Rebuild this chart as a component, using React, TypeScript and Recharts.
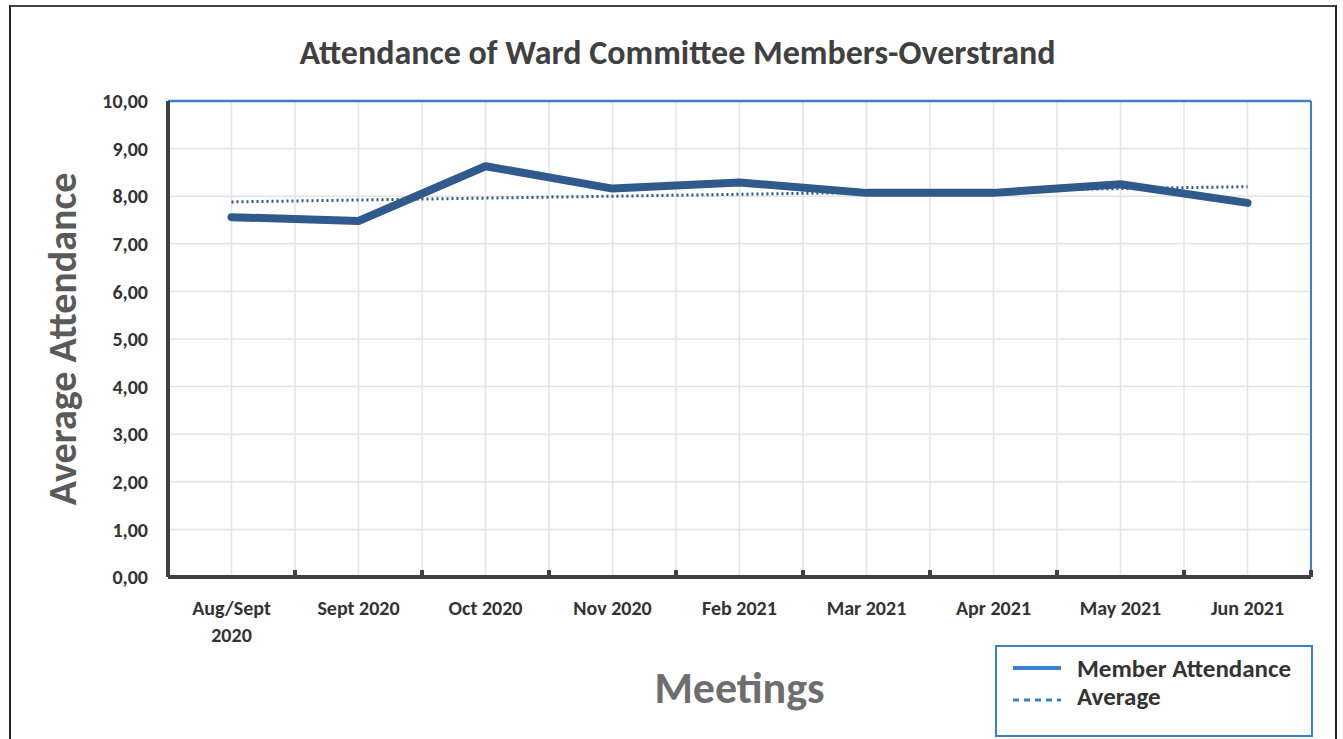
import React from 'react';
import { LineChart, Line, XAxis, YAxis, CartesianGrid, ReferenceLine, Legend } from 'recharts';

const categories = ['Aug/Sept 2020', 'Sept 2020', 'Oct 2020', 'Nov 2020', 'Feb 2021', 'Mar 2021', 'Apr 2021', 'May 2021', 'Jun 2021'];
const memberAttendance = [7.56, 7.48, 8.63, 8.16, 8.29, 8.07, 8.07, 8.25, 7.86];
// trend line ("Average") read at its two ends
const averageTrend = [7.88, null, null, null, null, null, null, null, 8.2];
const yTicks = [0, 1, 2, 3, 4, 5, 6, 7, 8, 9, 10];

const data = categories.map((c, i) => ({ idx: i, name: c, attendance: memberAttendance[i], average: averageTrend[i] }));
const xTicks: number[] = [];
for (let i = 0; i <= categories.length * 2; i++) xTicks.push(-0.5 + i * 0.5);

const FONT = "Carlito, 'Liberation Sans Narrow', 'Open Sans', Arial, sans-serif";
const LINE = '#30598c';
const BLUE = '#3b7fcf';

const XTick = (props: any) => {
  const { x, y, payload } = props;
  const v = payload.value;
  if (Math.abs(v - Math.round(v)) > 0.01) {
    return <line x1={x} x2={x} y1={y} y2={y - 7} stroke="#404040" strokeWidth={4} />;
  }
  const label = categories[Math.round(v)];
  if (!label) return null;
  const lines = label === 'Aug/Sept 2020' ? ['Aug/Sept', '2020'] : [label];
  return (
    <text x={x} y={y + 38} textAnchor="middle" fill="#333" fontFamily={FONT} fontWeight={700} fontSize={20}>
      {lines.map((l, i) => (
        <tspan key={i} x={x} dy={i === 0 ? 0 : 27}>{l}</tspan>
      ))}
    </text>
  );
};

const LegendBox = () => (
  <div style={{ width: 318, height: 92, boxSizing: 'border-box', border: `2px solid ${BLUE}`, background: '#fff', fontFamily: FONT, fontWeight: 700, fontSize: 25, color: '#333', paddingTop: 6 }}>
    <div style={{ display: 'flex', alignItems: 'center', height: 30 }}>
      <svg width={80} height={20}><line x1={16} x2={64} y1={10} y2={10} stroke={BLUE} strokeWidth={4} /></svg>
      <span>Member Attendance</span>
    </div>
    <div style={{ display: 'flex', alignItems: 'center', height: 26 }}>
      <svg width={80} height={20}><line x1={16} x2={64} y1={14} y2={14} stroke={BLUE} strokeWidth={3} strokeDasharray="6 5" /></svg>
      <span>Average</span>
    </div>
  </div>
);

export default function App() {
  return (
    <div style={{ position: 'absolute', left: 0, top: 0, width: 1343, height: 739, background: '#fff' }}>
      <div style={{ position: 'absolute', left: 9, top: 5, width: 1328, height: 740, borderLeft: '2px solid #222', borderTop: '2px solid #444', borderRight: '2px solid #222', boxSizing: 'border-box' }} />
      <div style={{ position: 'absolute', left: 0, top: 32, width: 1355, textAlign: 'center', fontFamily: FONT, fontWeight: 700, fontSize: 34, color: '#404040' }}>
        Attendance of Ward Committee Members-Overstrand
      </div>
      <div style={{ position: 'absolute', left: 0, top: 0 }}>
        <LineChart width={1343} height={739} data={data} margin={{ top: 101, right: 32, bottom: 102, left: 0 }}>
          <CartesianGrid stroke="#e4e4e4" strokeWidth={1.5} />
          <XAxis
            dataKey="idx"
            type="number"
            domain={[-0.5, 8.5]}
            ticks={xTicks}
            interval={0}
            height={60}
            tickSize={0}
            tickMargin={0}
            tickLine={false}
            tick={<XTick />}
            axisLine={{ stroke: '#404040', strokeWidth: 4 }}
            label={{ value: 'Meetings', position: 'insideBottom', offset: -66, fill: '#6e6e6e', fontSize: 44, fontWeight: 600, fontFamily: FONT }}
          />
          <YAxis
            domain={[0, 10]}
            ticks={yTicks}
            interval={0}
            width={168}
            tickLine={false}
            tickMargin={14}
            axisLine={{ stroke: '#404040', strokeWidth: 4 }}
            tick={{ fill: '#333', fontSize: 20, fontWeight: 700, fontFamily: FONT }}
            tickFormatter={(v: number) => v.toFixed(2).replace('.', ',')}
            label={{ value: 'Average Attendance', angle: -90, position: 'insideLeft', offset: 62, style: { textAnchor: 'middle' }, fill: '#5a5a5a', fontSize: 40, fontWeight: 600, fontFamily: FONT }}
          />
          <ReferenceLine y={10} stroke={BLUE} strokeWidth={2.5} />
          <ReferenceLine x={8.5} stroke={BLUE} strokeWidth={2} />
          <Line dataKey="average" name="Average" stroke={LINE} strokeWidth={3} strokeDasharray="2 3" dot={false} connectNulls isAnimationActive={false} />
          <Line dataKey="attendance" name="Member Attendance" stroke={LINE} strokeWidth={8} strokeLinejoin="round" strokeLinecap="round" dot={false} isAnimationActive={false} />
          <Legend layout="vertical" align="center" verticalAlign="middle" content={<LegendBox />} wrapperStyle={{ left: 995, top: 645, width: 318, height: 92 }} />
        </LineChart>
      </div>
    </div>
  );
}
